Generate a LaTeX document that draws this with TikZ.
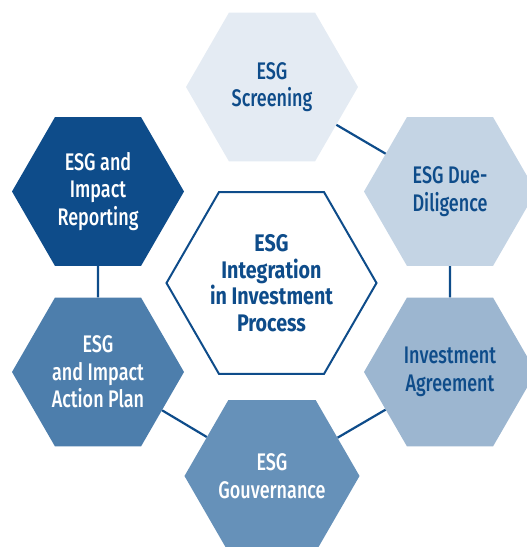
\documentclass[tikz,border=0pt]{standalone}
\usepackage{fontspec}
\setsansfont[FakeStretch=0.75, UprightFont={* Medium}, BoldFont={* Bold}]{Fira Sans}
\newfontfamily\corefont[FakeStretch=0.82]{Fira Sans Bold}
\usetikzlibrary{shapes.geometric}

\definecolor{esgdark}{HTML}{0E4C8A}
\definecolor{esgone}{HTML}{E4EBF3}
\definecolor{esgtwo}{HTML}{C4D4E4}
\definecolor{esgthree}{HTML}{9CB6D0}
\definecolor{esgfour}{HTML}{6691B9}
\definecolor{esgfive}{HTML}{4D7EAC}

\tikzset{
  hexa/.style={regular polygon, regular polygon sides=6, minimum size=172pt,
    inner sep=0pt, align=center, font=\sffamily\fontsize{24}{27.5}\selectfont},
  hexalight/.style={hexa, fill=#1, text=esgdark},
  hexadark/.style={hexa, fill=#1, text=white},
  link/.style={draw=esgdark, line width=2.2pt}
}

\begin{document}
\begin{tikzpicture}[x=1pt,y=-1pt]
        %FRAME
        \useasboundingbox (0,0) rectangle (527,547);

        %CENTRE
        \node[hexa, minimum size=210pt, draw=esgdark, line width=2pt, text=esgdark,
          font=\corefont\fontsize{24}{26.5}\selectfont] (core) at (271.5,283)
          {ESG\\Integration\\in Investment\\Process};

        %HEXAGONS
        \node[hexalight=esgone] (screen) at (272,87) {ESG\\Screening};
        \node[hexalight=esgtwo] (duedil) at (450,191.5) {ESG Due-\\Diligence};
        \node[hexalight=esgthree] (agree) at (450,372) {Investment\\Agreement};
        \node[hexadark=esgfour] (govern) at (272,476) {ESG\\Gouvernance};
        \node[hexadark=esgfive] (action) at (98,372) {ESG\\and Impact\\Action Plan};
        \node[hexadark=esgdark] (report) at (98,191.5) {ESG and\\Impact\\Reporting};

        %LINKS
        \draw[link] (screen) -- (duedil);
        \draw[link] (duedil) -- (agree);
        \draw[link] (agree) -- (govern);
        \draw[link] (govern) -- (action);
        \draw[link] (action) -- (report);
\end{tikzpicture}
\end{document}
